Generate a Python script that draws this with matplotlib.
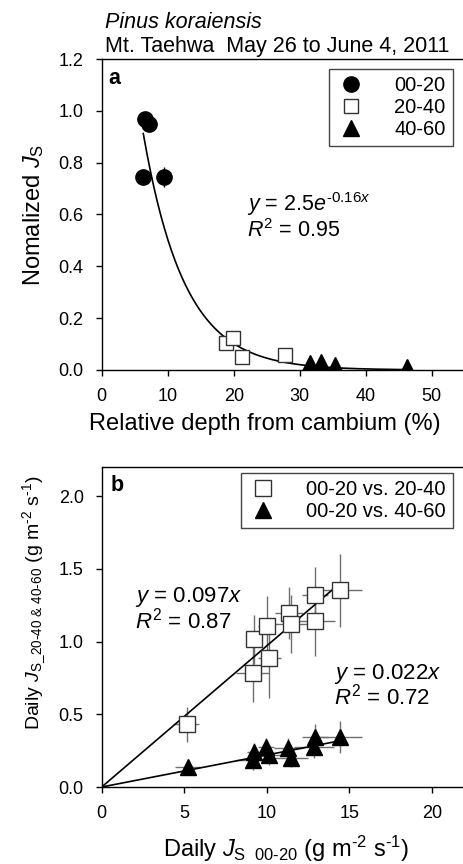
# Sap flux: radial profile (a) and inner vs outer xylem (b)
import matplotlib
matplotlib.use('Agg')
import matplotlib.pyplot as plt
import numpy as np

plt.rcParams['font.family'] = ['Liberation Sans', 'DejaVu Sans']
plt.rcParams['mathtext.fontset'] = 'custom'
plt.rcParams['mathtext.rm'] = 'Liberation Sans'
plt.rcParams['mathtext.it'] = 'Liberation Sans:italic'
plt.rcParams['mathtext.bf'] = 'Liberation Sans:bold'

# panel a: normalized Js vs relative depth from cambium (%)
depth_00_20 = [6.6, 7.2, 6.3, 9.4]
js_00_20 = [0.97, 0.95, 0.745, 0.745]
err_00_20 = [0.0, 0.0, 0.0, 0.04]
depth_20_40 = [18.9, 19.9, 21.3, 27.7]
js_20_40 = [0.103, 0.122, 0.051, 0.058]
depth_40_60 = [31.6, 33.2, 35.4, 46.2]
js_40_60 = [0.028, 0.030, 0.020, 0.010]
fit_a = (2.5, -0.16)   # y = a * exp(b * x)

# panel b: daily Js 00-20 vs daily Js of deeper layers
js_in = [5.15, 9.15, 9.23, 10.0, 10.16, 11.37, 11.47, 12.93, 12.93, 14.44]
js_in_err = [0.75, 1.0, 0.4, 0.5, 0.7, 0.85, 1.0, 0.8, 1.2, 1.35]
js_20_40_b = [0.43, 0.785, 1.015, 1.11, 0.885, 1.195, 1.12, 1.32, 1.142, 1.353]
js_20_40_err = [0.12, 0.2, 0.17, 0.2, 0.27, 0.18, 0.2, 0.19, 0.24, 0.25]
js_in_t = [5.2, 9.15, 9.23, 9.96, 10.16, 11.3, 11.5, 12.93, 12.88, 14.44]
js_40_60_b = [0.14, 0.185, 0.243, 0.277, 0.22, 0.266, 0.197, 0.346, 0.277, 0.341]
js_40_60_err = [0.03, 0.07, 0.06, 0.06, 0.07, 0.07, 0.06, 0.09, 0.08, 0.11]
slope_20_40 = 0.097
slope_40_60 = 0.022

W, H = 463, 864
fig = plt.figure(figsize=(W / 100, H / 100), dpi=100)

def px_axes(left, top, right, bottom):
    return fig.add_axes([left / W, 1 - bottom / H, (right - left) / W, (bottom - top) / H])

def style(ax):
    ax.tick_params(direction='out', length=4, width=1, labelsize=13, pad=9)
    for s in ax.spines.values():
        s.set_linewidth(1)

def legend(ax, top_px):
    lg = ax.legend(loc='upper right', bbox_to_anchor=(452.7 / W, 1 - top_px / H),
                   bbox_transform=fig.transFigure, borderaxespad=0, fontsize=14.5,
                   fancybox=False, edgecolor='#444444', framealpha=1,
                   handletextpad=1.4, labelspacing=0.15, borderpad=0.35, handlelength=1.5)
    lg.get_frame().set_linewidth(1)

# ---------- panel a ----------
ax1 = px_axes(101.7, 59, 464.7, 370)
style(ax1)
ax1.errorbar(depth_00_20, js_00_20, yerr=err_00_20, fmt='none', ecolor='black',
             elinewidth=1, capsize=0, zorder=3)
ax1.plot(depth_00_20, js_00_20, 'o', color='black', ms=11, label='00-20', zorder=3)
ax1.plot(depth_20_40, js_20_40, 's', mfc='white', mec='#333333', ms=10, mew=1,
         label='20-40', zorder=3)
ax1.plot(depth_40_60, js_40_60, '^', color='black', ms=11, label='40-60', zorder=3)
xs = np.linspace(min(depth_00_20), max(depth_40_60), 300)
ax1.plot(xs, fit_a[0] * np.exp(fit_a[1] * xs), color='black', lw=1.2, zorder=2)
ax1.set_xlim(0, 55)
ax1.set_ylim(0, 1.2)
ax1.set_xticks([0, 10, 20, 30, 40, 50])
ax1.set_yticks(np.arange(0, 1.21, 0.2))
ax1.set_yticklabels(['%.1f' % v for v in np.arange(0, 1.21, 0.2)])
ax1.text(0.0185, 0.97, 'a', transform=ax1.transAxes, fontsize=15.5, fontweight='bold',
         ha='left', va='top')
ax1.text(22, 0.615, r'$y$ = 2.5$e^{\text{-0.16}x}$', fontsize=15.5, ha='left', va='baseline')
ax1.text(22, 0.515, r'$R^{\mathrm{2}}$ = 0.95', fontsize=15.5, ha='left', va='baseline')
ax1.text(0.4485, -0.175, 'Relative depth from cambium (%)', transform=ax1.transAxes,
         fontsize=17, ha='center', va='center')
ax1.text(-0.1865, 0.5, r'Nomalized $J_{\mathrm{S}}$', transform=ax1.transAxes,
         fontsize=17, ha='center', va='center', rotation=90)
legend(ax1, 69.3)

fig.text(105 / W, 1 - 28 / H, 'Pinus koraiensis', fontsize=15.5, style='italic',
         ha='left', va='baseline')
fig.text(105 / W, 1 - 52 / H, 'Mt. Taehwa  May 26 to June 4, 2011', fontsize=15.5,
         ha='left', va='baseline')

# ---------- panel b ----------
ax2 = px_axes(101.7, 467, 464.7, 787)
style(ax2)
ax2.errorbar(js_in, js_20_40_b, xerr=js_in_err, yerr=js_20_40_err, fmt='none',
             ecolor='#707070', elinewidth=1, capsize=0, zorder=1)
ax2.errorbar(js_in_t, js_40_60_b, xerr=js_in_err, yerr=js_40_60_err, fmt='none',
             ecolor='#707070', elinewidth=1, capsize=0, zorder=1)
lx = np.array([0, max(js_in)])
ax2.plot(lx, slope_20_40 * lx, color='black', lw=1.2, zorder=2)
ax2.plot(lx, slope_40_60 * lx, color='black', lw=1.2, zorder=2)
ax2.plot(js_in, js_20_40_b, 's', mfc='white', mec='#333333', ms=11, mew=1,
         label='00-20 vs. 20-40', zorder=3)
ax2.plot(js_in_t, js_40_60_b, '^', color='black', ms=11, label='00-20 vs. 40-60', zorder=3)
ax2.set_xlim(0, 22)
ax2.set_ylim(0, 2.2)
ax2.set_xticks([0, 5, 10, 15, 20])
ax2.set_yticks([0, 0.5, 1.0, 1.5, 2.0])
ax2.set_yticklabels(['0.0', '0.5', '1.0', '1.5', '2.0'])
ax2.text(0.025, 0.975, 'b', transform=ax2.transAxes, fontsize=15.5, fontweight='bold',
         ha='left', va='top')
ax2.text(2.0, 1.27, r'$y$ = 0.097$x$', fontsize=16, ha='left', va='baseline')
ax2.text(2.0, 1.09, r'$R^{\mathrm{2}}$ = 0.87', fontsize=16, ha='left', va='baseline')
ax2.text(14.1, 0.74, r'$y$ = 0.022$x$', fontsize=16, ha='left', va='baseline')
ax2.text(14.1, 0.565, r'$R^{\mathrm{2}}$ = 0.72', fontsize=16, ha='left', va='baseline')
xlab_b = r'Daily $J_{\text{S  00-20}}$ (g m$^{\text{-2}}$ s$^{\text{-1}}$)'
ylab_b = r'Daily $J_{\text{S_20-40 & 40-60}}$ (g m$^{\text{-2}}$ s$^{\text{-1}}$)'
ax2.text(0.508, -0.195, xlab_b, transform=ax2.transAxes, fontsize=17, ha='center', va='center')
ax2.text(-0.185, 0.575, ylab_b, transform=ax2.transAxes, fontsize=14, ha='center',
         va='center', rotation=90)
legend(ax2, 473)

fig.savefig('out.png', dpi=100)
